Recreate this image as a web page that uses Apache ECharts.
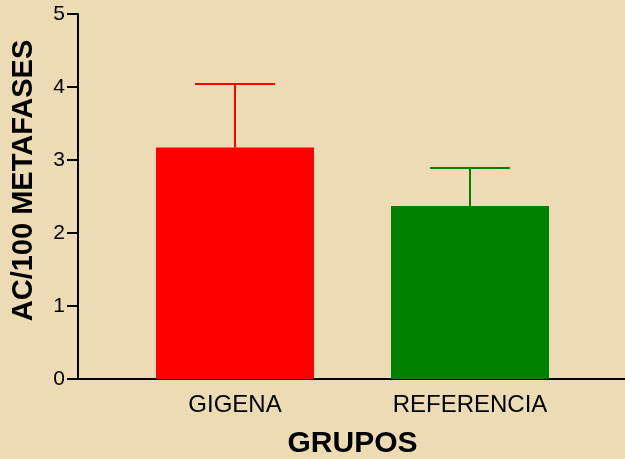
<!DOCTYPE html>
<html>
<head>
<meta charset="utf-8">
<script src="https://cdn.jsdelivr.net/npm/echarts@6/dist/echarts.min.js"></script>
<style>
  html, body { margin: 0; padding: 0; background: #ecdbb4; }
  #chart { width: 625px; height: 459px; }
</style>
</head>
<body>
<div id="chart"></div>
<script>
(function(){

    // datos del grafico
    var grupos = ['GIGENA', 'REFERENCIA'];
    var medias = [3.17, 2.37];
    var errores = [0.87, 0.52];
    var colores = ['#ff0000', '#008000'];

    var fuente = 'Arial, "Liberation Sans", Helvetica, sans-serif';

    var chart = echarts.init(document.getElementById('chart'));

    var barData = [];
    var errData = [];
    for (var i = 0; i < grupos.length; i++) {
        barData.push({value: medias[i], itemStyle: {color: colores[i]}});
        errData.push([i, medias[i], medias[i] + errores[i]]);
    }

    // barra de error solo hacia arriba
    function renderError(params, api) {
        var idx = api.value(0);
        var base = api.coord([idx, api.value(1)]);
        var top = api.coord([idx, api.value(2)]);
        var half = api.size([1, 0])[0] * 0.17;
        var style = {stroke: colores[idx], lineWidth: 2};
        return {
            type: 'group',
            children: [
                {type: 'line', shape: {x1: base[0], y1: base[1], x2: top[0], y2: top[1]}, style: style},
                {type: 'line', shape: {x1: top[0] - half, y1: top[1], x2: top[0] + half, y2: top[1]}, style: style}
            ]
        };
    }

    var option = {
        backgroundColor: '#ecdbb4',
        animation: false,
        grid: [
            {left: 117.5, right: 37.5, top: 14, bottom: 80, outerBoundsMode: 'none'},
            {left: 78, right: 0, top: 14, bottom: 80, outerBoundsMode: 'none'}
        ],
        xAxis: [
            {
                type: 'category',
                gridIndex: 0,
                data: grupos,
                name: 'GRUPOS',
                nameLocation: 'middle',
                nameGap: 50,
                nameTextStyle: {color: '#000', fontSize: 30, fontWeight: 'bold', fontFamily: fuente},
                axisLine: {show: false},
                axisTick: {show: false},
                axisLabel: {color: '#000', fontSize: 24, fontFamily: fuente, margin: 14}
            },
            {
                type: 'value',
                gridIndex: 1,
                min: 0,
                max: 1,
                axisLine: {show: true, lineStyle: {color: '#000', width: 2}},
                axisTick: {show: false},
                axisLabel: {show: false},
                splitLine: {show: false}
            }
        ],
        yAxis: [
            {
                type: 'value',
                gridIndex: 0,
                min: 0,
                max: 5,
                interval: 1,
                offset: 39.5,
                name: 'AC/100 METAFASES',
                nameLocation: 'middle',
                nameGap: 40,
                nameRotate: 90,
                nameTextStyle: {color: '#000', fontSize: 29, fontWeight: 'bold', fontFamily: fuente, padding: [0, 0, 0, 32]},
                axisLine: {show: true, lineStyle: {color: '#000', width: 2}},
                axisTick: {show: true, length: 11, lineStyle: {color: '#000', width: 2}},
                axisLabel: {color: '#000', fontSize: 21, fontFamily: fuente, margin: 13},
                splitLine: {show: false}
            },
            {
                type: 'value',
                gridIndex: 1,
                show: false
            }
        ],
        series: [
            {
                type: 'bar',
                xAxisIndex: 0,
                yAxisIndex: 0,
                barWidth: 158,
                data: barData
            },
            {
                type: 'custom',
                xAxisIndex: 0,
                yAxisIndex: 0,
                renderItem: renderError,
                encode: {x: 0, y: [1, 2]},
                data: errData,
                z: 3
            }
        ]
    };

    chart.setOption(option);

})();
</script>
</body>
</html>
